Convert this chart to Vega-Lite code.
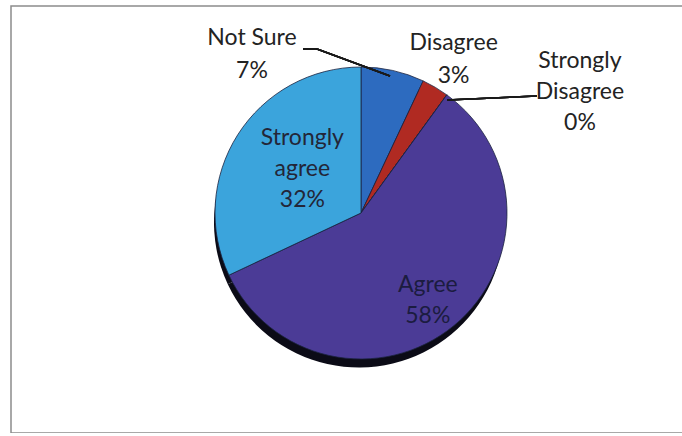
{
  "$schema": "https://vega.github.io/schema/vega-lite/v6.json",
  "width": 720,
  "height": 427,
  "padding": {"left": 11, "top": 6, "right": 0, "bottom": 0},
  "background": "white",
  "view": {"stroke": "#8c8c8c", "strokeWidth": 1.5},
  "config": {"view": {"stroke": "#8c8c8c", "strokeWidth": 1.5}, "text": {"font": "Lato"}},
  "data": {"values": [
    {"category": "Not Sure", "value": 7, "order": 1, "label": "Not Sure\n7%"},
    {"category": "Disagree", "value": 3, "order": 2, "label": "Disagree\n3%"},
    {"category": "Strongly Disagree", "value": 0, "order": 3, "label": "Strongly\nDisagree\n0%"},
    {"category": "Agree", "value": 58, "order": 4, "label": "Agree\n58%"},
    {"category": "Strongly agree", "value": 32, "order": 5, "label": "Strongly\nagree\n32%"}
  ]},
  "transform": [
    {"stack": "value", "groupby": [], "sort": [{"field": "order"}], "as": ["v0", "v1"]},
    {"calculate": "(datum.v0 + datum.v1) / 2", "as": "mid"}
  ],
  "layer": [
    {
      "mark": {"type": "arc", "x": {"expr": "width/2-12"}, "y": {"expr": "height/2+3"}, "outerRadius": 145, "color": "#0b0b16"},
      "encoding": {
        "theta": {"field": "v0", "type": "quantitative", "scale": {"domain": [0, 100]}},
        "theta2": {"field": "v1"}
      }
    },
    {
      "mark": {"type": "arc", "x": {"expr": "width/2-10"}, "y": {"expr": "height/2-6.5"}, "outerRadius": 146, "stroke": "#1c2340", "strokeWidth": 0.8},
      "encoding": {
        "theta": {"field": "v0", "type": "quantitative", "scale": {"domain": [0, 100]}},
        "theta2": {"field": "v1"},
        "color": {"field": "category", "type": "nominal", "legend": null,
          "scale": {"domain": ["Not Sure", "Disagree", "Strongly Disagree", "Agree", "Strongly agree"],
                    "range": ["#2d6bbf", "#b02a22", "#6a6a6a", "#4b3b96", "#3ba4dc"]}}
      }
    },
    {
      "transform": [{"filter": "datum.category === 'Strongly agree'"}],
      "mark": {"type": "text", "x": {"expr": "width/2-10"}, "y": {"expr": "height/2-6.5"}, "radius": 73, "dx": 3, "dy": -36, "fontSize": 23, "lineHeight": 31, "lineBreak": "\n", "align": "center", "baseline": "middle", "color": "#232638"},
      "encoding": {"theta": {"field": "mid", "type": "quantitative", "scale": {"domain": [0, 100]}}, "text": {"field": "label"}}
    },
    {
      "transform": [{"filter": "datum.category === 'Agree'"}],
      "mark": {"type": "text", "x": {"expr": "width/2-10"}, "y": {"expr": "height/2-6.5"}, "radius": 108, "dx": -2, "dy": -11, "fontSize": 23, "lineHeight": 31, "lineBreak": "\n", "align": "center", "baseline": "middle", "color": "#1b1c40"},
      "encoding": {"theta": {"field": "mid", "type": "quantitative", "scale": {"domain": [0, 100]}}, "text": {"field": "label"}}
    },
    {
      "transform": [{"filter": "datum.category === 'Not Sure'"}],
      "mark": {"type": "text", "x": {"expr": "width/2-10"}, "y": {"expr": "height/2-6.5"}, "radius": 165, "dx": -145, "dy": -14, "fontSize": 23, "lineHeight": 33, "lineBreak": "\n", "align": "center", "baseline": "middle", "color": "#232323"},
      "encoding": {"theta": {"field": "mid", "type": "quantitative", "scale": {"domain": [0, 100]}}, "text": {"field": "label"}}
    },
    {
      "transform": [{"filter": "datum.category === 'Disagree'"}],
      "mark": {"type": "text", "x": {"expr": "width/2-10"}, "y": {"expr": "height/2-6.5"}, "radius": 178, "dx": 2, "dy": -17, "fontSize": 23, "lineHeight": 33, "lineBreak": "\n", "align": "center", "baseline": "middle", "color": "#232323"},
      "encoding": {"theta": {"field": "mid", "type": "quantitative", "scale": {"domain": [0, 100]}}, "text": {"field": "label"}}
    },
    {
      "transform": [{"filter": "datum.category === 'Strongly Disagree'"}],
      "mark": {"type": "text", "x": {"expr": "width/2-10"}, "y": {"expr": "height/2-6.5"}, "radius": 250, "dx": 72, "dy": 50, "fontSize": 23, "lineHeight": 31, "lineBreak": "\n", "align": "center", "baseline": "middle", "color": "#232323"},
      "encoding": {"theta": {"field": "mid", "type": "quantitative", "scale": {"domain": [0, 100]}}, "text": {"field": "label"}}
    },
    {
      "mark": {"type": "rule", "color": "#1a1a1a", "strokeWidth": 1.5},
      "encoding": {
        "x": {"value": {"expr": "width/2-10-58"}}, "y": {"value": {"expr": "height/2-6.5-164"}},
        "x2": {"value": {"expr": "width/2-10-44"}}, "y2": {"value": {"expr": "height/2-6.5-164"}}
      }
    },
    {
      "mark": {"type": "rule", "color": "#1a1a1a", "strokeWidth": 1.5},
      "encoding": {
        "x": {"value": {"expr": "width/2-10-44"}}, "y": {"value": {"expr": "height/2-6.5-164"}},
        "x2": {"value": {"expr": "width/2-10+29"}}, "y2": {"value": {"expr": "height/2-6.5-137"}}
      }
    },
    {
      "mark": {"type": "rule", "color": "#1a1a1a", "strokeWidth": 1.5},
      "encoding": {
        "x": {"value": {"expr": "width/2-10+86"}}, "y": {"value": {"expr": "height/2-6.5-113"}},
        "x2": {"value": {"expr": "width/2-10+176"}}, "y2": {"value": {"expr": "height/2-6.5-117"}}
      }
    }
  ]
}
